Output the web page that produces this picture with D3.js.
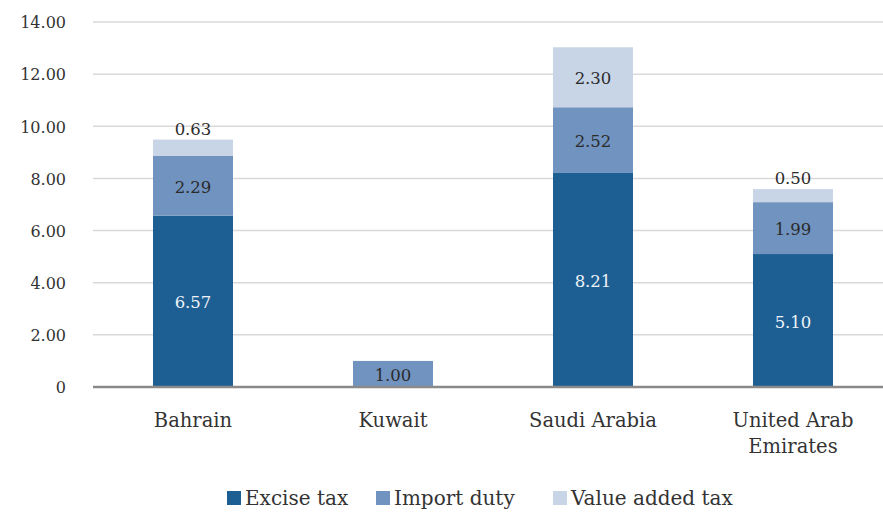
<!DOCTYPE html>
<html>
<head>
<meta charset="utf-8">
<script src="https://cdn.jsdelivr.net/npm/d3@7"></script>
<style>
  body { margin: 0; background: #fff; }
  text { font-family: "DejaVu Serif", serif; }
</style>
</head>
<body>
<div id="chart"></div>
<script>
/**
 * DATA
 * */
const categories = ["Bahrain", "Kuwait", "Saudi Arabia", "United Arab Emirates"];
const exciseTax = [6.57, 0, 8.21, 5.10];
const importDuty = [2.29, 1.00, 2.52, 1.99];
const valueAddedTax = [0.63, 0, 2.30, 0.50];
const seriesNames = ["Excise tax", "Import duty", "Value added tax"];
const yTicks = [0, 2, 4, 6, 8, 10, 12, 14];

/**
 * CONSTANTS
 * */
const width = 883,
  height = 512,
  margin = { top: 22, bottom: 125, left: 93, right: 0 },
  colors = ["#1d5f93", "#7193bf", "#c8d5e7"],
  labelColors = ["#eef3f9", "#2b2b2b", "#2b2b2b"],
  textColor = "#333";

const rows = categories.map((c, i) => ({
  category: c,
  "Excise tax": exciseTax[i],
  "Import duty": importDuty[i],
  "Value added tax": valueAddedTax[i]
}));

const stacked = d3.stack().keys(seriesNames)(rows);

const svg = d3.select("#chart")
  .append("svg")
  .attr("width", width)
  .attr("height", height);

// SCALES
const xScale = d3.scaleBand()
  .domain(categories)
  .range([margin.left, margin.left + 800])
  .paddingInner(0.6)
  .paddingOuter(0.3);

const yScale = d3.scaleLinear()
  .domain([0, 14])
  .range([height - margin.bottom, margin.top]);

// gridlines
svg.append("g")
  .selectAll("line")
  .data(yTicks.filter(d => d > 0))
  .join("line")
  .attr("x1", margin.left)
  .attr("x2", width)
  .attr("y1", d => yScale(d))
  .attr("y2", d => yScale(d))
  .attr("stroke", "#d9d9d9")
  .attr("stroke-width", 1.5);

// y axis labels
const yAxis = d3.axisLeft(yScale)
  .tickValues(yTicks)
  .tickSize(0)
  .tickPadding(0)
  .tickFormat(d => d === 0 ? "0" : d3.format(".2f")(d));

svg.append("g")
  .attr("class", "y-axis")
  .attr("transform", `translate(66,0)`)
  .call(yAxis)
  .call(g => g.select(".domain").remove())
  .selectAll(".tick text")
  .attr("font-family", "DejaVu Serif")
  .attr("font-size", 16)
  .attr("fill", textColor)
  .attr("dy", "0.36em");

// bars
const layer = svg.append("g")
  .selectAll("g")
  .data(stacked)
  .join("g")
  .attr("fill", (d, i) => colors[i]);

layer.selectAll("rect")
  .data(d => d)
  .join("rect")
  .attr("x", d => xScale(d.data.category))
  .attr("width", xScale.bandwidth())
  .attr("y", d => yScale(d[1]))
  .attr("height", d => yScale(d[0]) - yScale(d[1]));

// value labels
stacked.forEach((s, si) => {
  svg.append("g")
    .selectAll("text")
    .data(s.filter(d => d[1] - d[0] > 0))
    .join("text")
    .attr("x", d => xScale(d.data.category) + xScale.bandwidth() / 2)
    .attr("y", d => {
      const h = yScale(d[0]) - yScale(d[1]);
      return h < 20 ? yScale(d[1]) - 5 : (yScale(d[0]) + yScale(d[1])) / 2 + 7;
    })
    .attr("text-anchor", "middle")
    .attr("font-size", 16.5)
    .attr("fill", d => (yScale(d[0]) - yScale(d[1])) < 20 ? "#2b2b2b" : labelColors[si])
    .text(d => d3.format(".2f")(d[1] - d[0]));
});

// baseline
svg.append("line")
  .attr("x1", margin.left)
  .attr("x2", width)
  .attr("y1", yScale(0))
  .attr("y2", yScale(0))
  .attr("stroke", "#8a8a8a")
  .attr("stroke-width", 2.5);

// category labels
const catLines = { "United Arab Emirates": ["United Arab", "Emirates"] };
const xLabels = svg.append("g")
  .selectAll("text")
  .data(categories)
  .join("text")
  .attr("x", d => xScale(d) + xScale.bandwidth() / 2)
  .attr("y", 427)
  .attr("text-anchor", "middle")
  .attr("font-size", 19.5)
  .attr("fill", textColor);

xLabels.selectAll("tspan")
  .data(d => catLines[d] || [d])
  .join("tspan")
  .attr("x", function () { return d3.select(this.parentNode).attr("x"); })
  .attr("dy", (d, i) => i === 0 ? 0 : 26)
  .text(d => d);

// legend
const legendX = [227, 376, 553];
const legend = svg.append("g")
  .selectAll("g")
  .data(seriesNames)
  .join("g")
  .attr("transform", (d, i) => `translate(${legendX[i]},0)`);

legend.append("rect")
  .attr("x", 0)
  .attr("y", 491)
  .attr("width", 14)
  .attr("height", 14)
  .attr("fill", (d, i) => colors[i]);

legend.append("text")
  .attr("x", 18)
  .attr("y", 505)
  .attr("font-size", 20)
  .attr("fill", textColor)
  .text(d => d);
</script>
</body>
</html>
